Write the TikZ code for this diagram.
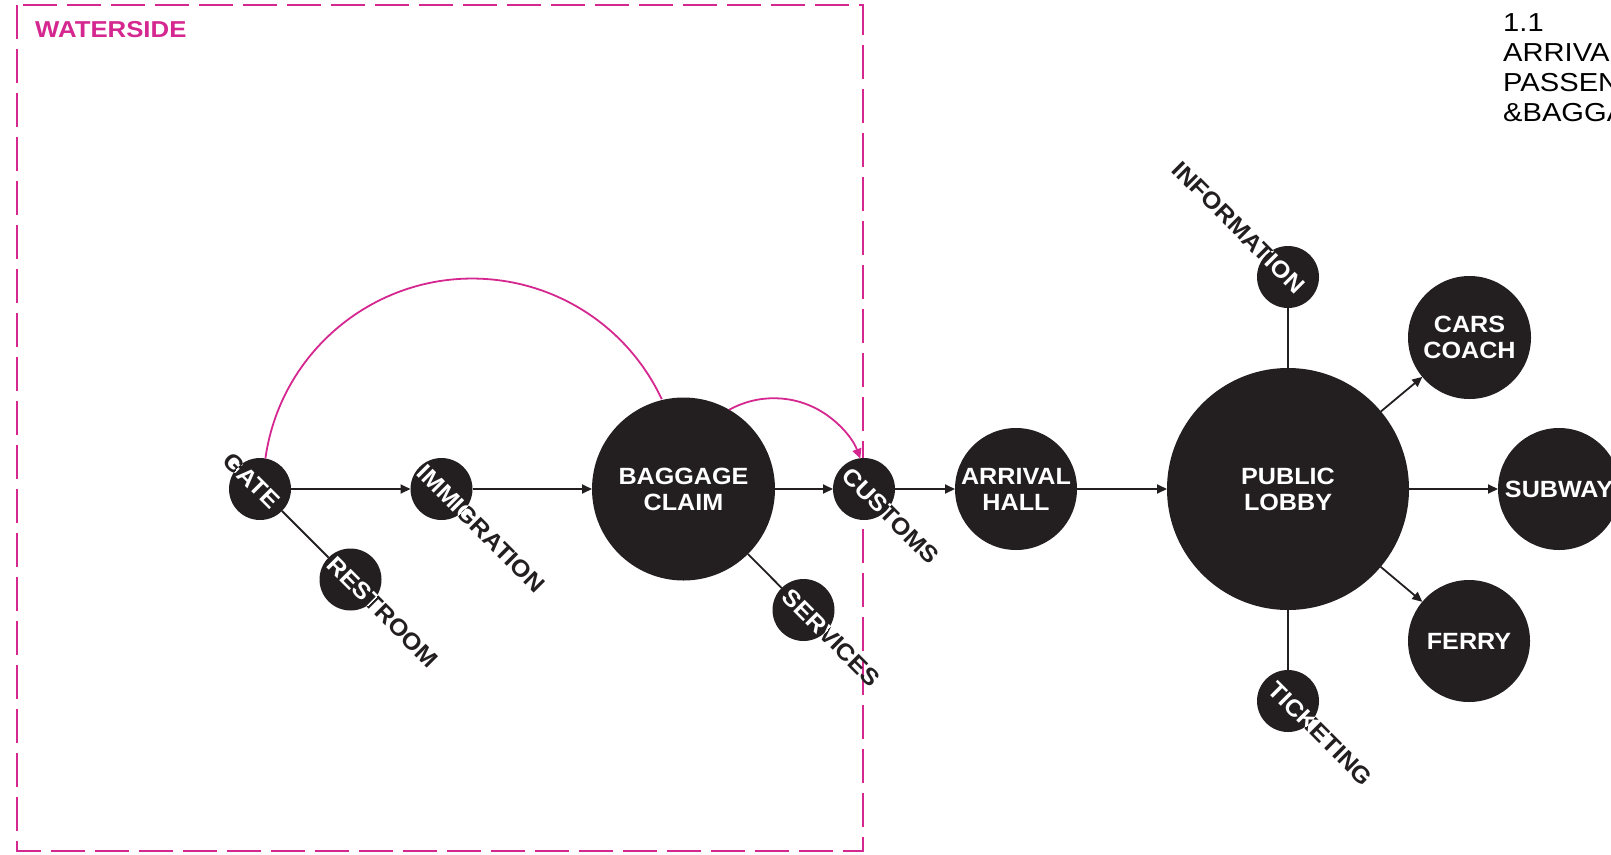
\documentclass[tikz,border=0pt]{standalone}
\usepackage{fontspec}
\setmainfont{Liberation Sans}[FakeStretch=1.07]
\newfontfamily\widefont{Liberation Sans}[FakeStretch=1.12]
\usetikzlibrary{arrows.meta,calc}

\definecolor{ink}{HTML}{231F20}
\definecolor{zonepink}{HTML}{D4278F}

\newcommand{\labelsize}{\fontsize{23.5}{26}\selectfont}

\tikzset{
  spot/.style={circle, fill=ink, inner sep=0pt, outer sep=0pt, minimum size=62pt},
  hub/.style={spot, text=white, font=\bfseries\labelsize, align=center},
  tag/.style={font=\bfseries\labelsize, text=ink, rotate=-45, inner sep=0pt},
  flow/.style={draw=ink, line width=1.8pt, -{Triangle[length=10pt,width=9pt]}},
  link/.style={draw=ink, line width=1.8pt},
  hop/.style={draw=zonepink, line width=1.8pt},
  zone/.style={draw=zonepink, line width=2.2pt, dash pattern=on 34pt off 10pt},
}

% label running across a small spot: dark outside, white inside
\newcommand{\spotlabel}[4]{%
  \node[tag, anchor=#2] (#1-tag) at #3 {#4};
  \begin{scope}
    \clip (#1.center) circle[radius=31];
    \node[tag, anchor=#2, text=white] at #3 {#4};
  \end{scope}}

\begin{document}
\begin{tikzpicture}[x=1pt,y=1pt]
    \useasboundingbox (0,0) rectangle (1611,-854);

    % waterside zone
    \draw[zone] (17,-5) rectangle (863,-851);
    \node[anchor=north west, inner sep=0pt, text=zonepink,
          font=\widefont\bfseries\fontsize{23}{26}\selectfont] (zone-name) at (35,-21.5) {WATERSIDE};

    \node[anchor=north west, align=left, inner sep=0pt,
          font=\widefont\fontsize{26}{30}\selectfont] (title) at (1503,-13)
          {1.1\\ARRIVAL\\PASSENGER\\\&BAGGAGE};

    % spots
    \node[spot] (gate) at (260,-489) {};
    \node[spot] (restroom) at (350.5,-579.5) {};
    \node[spot] (immig) at (441.5,-489) {};
    \node[hub, minimum size=183pt] (claim) at (683.5,-489) {BAGGAGE\\CLAIM};
    \node[spot] (services) at (803.5,-610) {};
    \node[spot] (customs) at (864,-489) {};
    \node[hub, minimum size=122pt] (hall) at (1016,-489) {ARRIVAL\\HALL};
    \node[hub, minimum size=242pt] (lobby) at (1288,-489) {PUBLIC\\LOBBY};
    \node[spot] (info) at (1288,-277) {};
    \node[spot] (ticket) at (1288,-701) {};
    \node[hub, minimum size=123pt] (cars) at (1469.5,-337.5) {CARS\\COACH};
    \node[hub, minimum size=122pt] (subway) at (1559,-489) {SUBWAY};
    \node[hub, minimum size=122pt] (ferry) at (1469,-641) {FERRY};

    % main route
    \draw[flow] (gate) -- (immig);
    \draw[flow] (immig) -- (claim);
    \draw[flow] (claim) -- (customs);
    \draw[flow] (customs) -- (hall);
    \draw[flow] (hall) -- (lobby);
    \draw[flow] (lobby) -- (cars);
    \draw[flow] (lobby) -- (subway);
    \draw[flow] (lobby) -- (ferry);
    \draw[link] (gate) -- (restroom);
    \draw[link] (claim) -- (services);
    \draw[link] (lobby) -- (info);
    \draw[link] (lobby) -- (ticket);

    % shortcuts
    \draw[hop] (gate.80) arc[start angle=172, end angle=25, radius=209];
    \draw[hop, -{Triangle[length=10pt,width=9pt]}]
        (claim.60) arc[start angle=119, end angle=20, radius=92];

    \spotlabel{gate}{west}{($(gate)+(135:46)$)}{GATE}
    \spotlabel{restroom}{west}{($(restroom)+(135:27)$)}{RESTROOM}
    \spotlabel{immig}{west}{($(immig)+(135:29)$)}{IMMIGRATION}
    \spotlabel{customs}{west}{($(customs)+(135:25)$)}{CUSTOMS}
    \spotlabel{services}{west}{($(services)+(135:24)$)}{SERVICES}
    \spotlabel{ticket}{west}{($(ticket)+(135:22)$)}{TICKETING}
    \spotlabel{info}{east}{($(info)+(-45:18)$)}{INFORMATION}
\end{tikzpicture}
\end{document}
